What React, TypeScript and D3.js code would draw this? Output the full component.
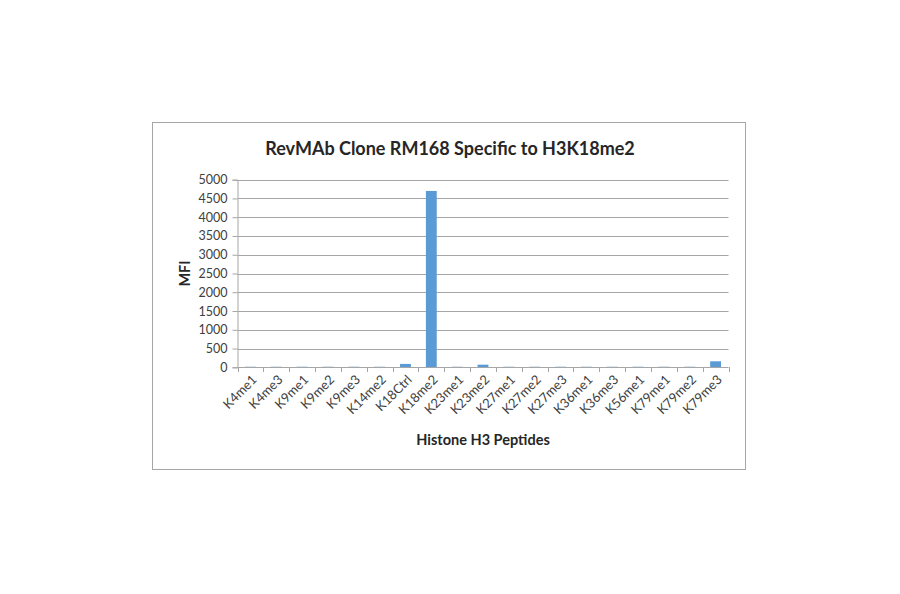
import * as d3 from "d3";
import { useEffect, useRef } from "react";

const peptides = [
  "K4me1", "K4me3", "K9me1", "K9me2", "K9me3", "K14me2", "K18Ctrl", "K18me2",
  "K23me1", "K23me2", "K27me1", "K27me2", "K27me3", "K36me1", "K36me3",
  "K56me1", "K79me1", "K79me2", "K79me3",
];
const mfi = [15, 15, 15, 15, 15, 15, 90, 4700, 15, 70, 15, 15, 15, 15, 15, 15, 15, 15, 160];
const yTicks = [0, 500, 1000, 1500, 2000, 2500, 3000, 3500, 4000, 4500, 5000];

export default function App() {
  const svgRef = useRef<SVGSVGElement>(null);

  useEffect(() => {
    if (!svgRef.current) return;
    const svg = d3.select<SVGSVGElement, unknown>(svgRef.current);
    svg.selectAll("*").remove();
    const width = 900;
    const height = 594;
    const font = "Lato, 'Open Sans', sans-serif";

    svg.attr("width", width).attr("height", height);
    svg.append("rect").attr("width", width).attr("height", height).attr("fill", "#fff");

    // chart frame
    svg
      .append("rect")
      .attr("x", 152.5)
      .attr("y", 122.5)
      .attr("width", 593)
      .attr("height", 347)
      .attr("fill", "#fff")
      .attr("stroke", "#a6a6a6");

    const plot = { left: 237.5, right: 728.5, top: 179.7, bottom: 367.3 };

    const x = d3.scaleBand<string>().domain(peptides).range([plot.left, plot.right]).paddingInner(0.58).paddingOuter(0.29);
    const xStep = d3.scaleBand<string>().domain(peptides).range([plot.left, plot.right]);
    const y = d3.scaleLinear().domain([0, 5000]).range([plot.bottom, plot.top]);

    // gridlines
    svg
      .append("g")
      .selectAll("line")
      .data(yTicks.filter((t) => t > 0))
      .enter()
      .append("line")
      .attr("x1", plot.left)
      .attr("x2", plot.right)
      .attr("y1", (d) => Math.round(y(d)) + 0.5)
      .attr("y2", (d) => Math.round(y(d)) + 0.5)
      .attr("stroke", "#a6a6a6")
      .attr("stroke-width", 1);

    // y axis
    const yAxis = d3.axisLeft(y).tickValues(yTicks).tickFormat(d3.format("d")).tickSize(5).tickPadding(5);
    const yG = svg.append("g").attr("transform", `translate(${plot.left},0)`).call(yAxis);
    yG.select(".domain").attr("stroke", "#a6a6a6");
    yG.selectAll(".tick line").attr("stroke", "#a6a6a6");
    yG.selectAll(".tick text").attr("fill", "#404040").attr("font-size", "12.5px").attr("font-family", font);

    // bars
    svg
      .append("g")
      .selectAll("rect")
      .data(peptides)
      .enter()
      .append("rect")
      .attr("x", (d) => x(d)!)
      .attr("width", x.bandwidth())
      .attr("y", (d, i) => y(mfi[i]))
      .attr("height", (d, i) => plot.bottom - y(mfi[i]))
      .attr("fill", "#5b9bd5");

    // x axis
    const xg = svg.append("g");
    xg.append("line")
      .attr("x1", plot.left)
      .attr("x2", plot.right)
      .attr("y1", Math.round(plot.bottom) + 0.5)
      .attr("y2", Math.round(plot.bottom) + 0.5)
      .attr("stroke", "#a6a6a6");
    xg.selectAll("line.tick")
      .data(d3.range(peptides.length + 1))
      .enter()
      .append("line")
      .attr("class", "tick")
      .attr("x1", (i) => Math.round(plot.left + i * xStep.step()) + 0.5)
      .attr("x2", (i) => Math.round(plot.left + i * xStep.step()) + 0.5)
      .attr("y1", Math.round(plot.bottom))
      .attr("y2", Math.round(plot.bottom) + 5)
      .attr("stroke", "#a6a6a6");
    xg.selectAll("text")
      .data(peptides)
      .enter()
      .append("text")
      .attr("transform", (d) => `translate(${xStep(d)! + xStep.bandwidth() / 2 + 4},${plot.bottom + 10}) rotate(-45)`)
      .attr("text-anchor", "end")
      .attr("dy", "0.35em")
      .attr("fill", "#404040")
      .attr("font-size", "13px")
      .attr("font-family", font)
      .text((d) => d);

    // titles
    svg
      .append("text")
      .attr("x", 450)
      .attr("y", 155)
      .attr("text-anchor", "middle")
      .attr("font-size", "18px")
      .attr("font-weight", "bold")
      .attr("font-family", font)
      .attr("fill", "#262626")
      .text("RevMAb Clone RM168 Specific to H3K18me2");

    svg
      .append("text")
      .attr("x", 483)
      .attr("y", 445)
      .attr("text-anchor", "middle")
      .attr("font-size", "14.5px")
      .attr("font-weight", "bold")
      .attr("font-family", font)
      .attr("fill", "#262626")
      .text("Histone H3 Peptides");

    svg
      .append("text")
      .attr("transform", `translate(190,${(plot.top + plot.bottom) / 2}) rotate(-90)`)
      .attr("text-anchor", "middle")
      .attr("font-size", "14.5px")
      .attr("font-weight", "bold")
      .attr("font-family", font)
      .attr("fill", "#262626")
      .text("MFI");
  }, []);

  return (
    <div style={{ position: "absolute", left: 0, top: 0 }}>
      <svg ref={svgRef}></svg>
    </div>
  );
}
